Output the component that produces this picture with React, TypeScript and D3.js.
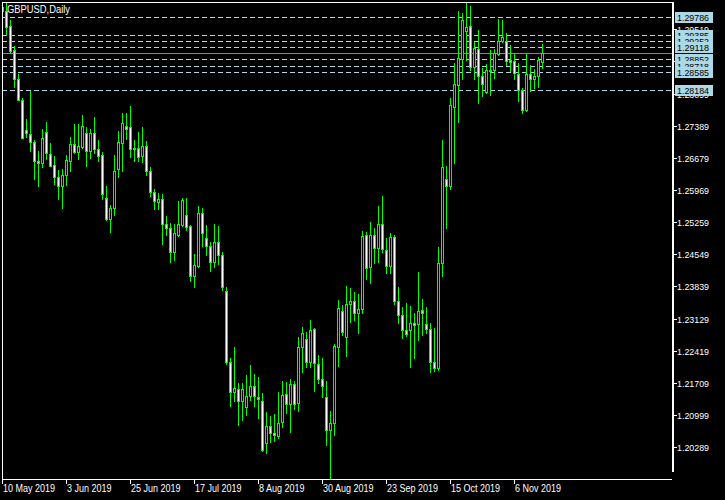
import React from 'react';
import * as d3 from 'd3';

// GBPUSD Daily candles, bar 0 = 10 May 2019
const OPEN = [1.3000,1.2992,1.2960,1.2905,1.2842,1.2796,1.2730,1.2720,1.2704,1.2660,1.2657,1.2726,1.2676,1.2653,1.2626,1.2606,1.2629,1.2662,1.2699,1.2680,1.2692,1.2723,1.2684,1.2723,1.2687,1.2675,1.2579,1.2533,1.2557,1.2643,1.2701,1.2739,1.2735,1.2687,1.2690,1.2671,1.2695,1.2639,1.2592,1.2571,1.2577,1.2522,1.2513,1.2461,1.2498,1.2520,1.2541,1.2518,1.2406,1.2430,1.2546,1.2491,1.2474,1.2437,1.2483,1.2453,1.2373,1.2217,1.2150,1.2157,1.2130,1.2117,1.2141,1.2165,1.2139,1.2130,1.2039,1.2076,1.2060,1.2054,1.2085,1.2146,1.2124,1.2168,1.2127,1.2250,1.2268,1.2216,1.2290,1.2212,1.2179,1.2139,1.2066,1.2082,1.2251,1.2329,1.2272,1.2345,1.2351,1.2326,1.2334,1.2497,1.2426,1.2497,1.2469,1.2522,1.2465,1.2428,1.2493,1.2351,1.2321,1.2288,1.2288,1.2304,1.2301,1.2332,1.2301,1.2290,1.2217,1.2203,1.2436,1.2621,1.2605,1.2780,1.2828,1.2887,1.2947,1.2960,1.2869,1.2908,1.2849,1.2813,1.2861,1.2861,1.2898,1.2925,1.2925,1.2883,1.2881,1.2854,1.2817,1.2773,1.2854,1.2843,1.2848,1.2880];
const HIGH = [1.3034,1.3011,1.2972,1.2914,1.2852,1.2800,1.2754,1.2815,1.2708,1.2684,1.2732,1.2747,1.2701,1.2673,1.2642,1.2644,1.2675,1.2715,1.2743,1.2743,1.2763,1.2737,1.2732,1.2758,1.2708,1.2681,1.2606,1.2564,1.2675,1.2728,1.2768,1.2767,1.2783,1.2708,1.2725,1.2735,1.2706,1.2648,1.2599,1.2590,1.2589,1.2540,1.2524,1.2522,1.2572,1.2580,1.2580,1.2520,1.2456,1.2561,1.2557,1.2520,1.2482,1.2522,1.2518,1.2460,1.2383,1.2226,1.2250,1.2170,1.2170,1.2189,1.2211,1.2191,1.2184,1.2148,1.2106,1.2098,1.2103,1.2150,1.2175,1.2173,1.2180,1.2175,1.2273,1.2294,1.2284,1.2310,1.2292,1.2233,1.2226,1.2176,1.2108,1.2257,1.2354,1.2343,1.2385,1.2380,1.2371,1.2368,1.2507,1.2504,1.2527,1.2513,1.2561,1.2583,1.2492,1.2503,1.2498,1.2383,1.2338,1.2348,1.2340,1.2326,1.2415,1.2357,1.2338,1.2304,1.2293,1.2470,1.2708,1.2651,1.2801,1.2878,1.2992,1.2988,1.3011,1.3003,1.2923,1.2951,1.2866,1.2876,1.2905,1.2908,1.2975,1.2973,1.2944,1.2918,1.2898,1.2878,1.2822,1.2898,1.2874,1.2864,1.2891,1.2920];
const LOW = [1.2985,1.2940,1.2900,1.2824,1.2795,1.2711,1.2715,1.2684,1.2622,1.2605,1.2647,1.2666,1.2649,1.2611,1.2578,1.2558,1.2609,1.2639,1.2679,1.2665,1.2690,1.2651,1.2668,1.2679,1.2660,1.2578,1.2531,1.2505,1.2542,1.2625,1.2639,1.2710,1.2670,1.2662,1.2660,1.2659,1.2631,1.2583,1.2555,1.2555,1.2478,1.2498,1.2439,1.2443,1.2496,1.2518,1.2509,1.2395,1.2382,1.2426,1.2474,1.2454,1.2417,1.2426,1.2434,1.2375,1.2212,1.2119,1.2132,1.2078,1.2089,1.2100,1.2133,1.2120,1.2094,1.2021,1.2016,1.2041,1.2043,1.2050,1.2074,1.2104,1.2063,1.2113,1.2108,1.2194,1.2207,1.2207,1.2154,1.2170,1.2139,1.2034,1.1959,1.2056,1.2209,1.2277,1.2231,1.2306,1.2310,1.2282,1.2326,1.2400,1.2391,1.2436,1.2437,1.2459,1.2413,1.2413,1.2346,1.2303,1.2270,1.2275,1.2205,1.2227,1.2266,1.2277,1.2281,1.2195,1.2198,1.2200,1.2408,1.2514,1.2599,1.2657,1.2748,1.2841,1.2885,1.2861,1.2842,1.2789,1.2804,1.2812,1.2806,1.2844,1.2896,1.2924,1.2874,1.2859,1.2843,1.2793,1.2767,1.2772,1.2815,1.2822,1.2824,1.2866];
const CLOSE = [1.2992,1.2957,1.2903,1.2842,1.2796,1.2712,1.2723,1.2704,1.2660,1.2657,1.2712,1.2679,1.2651,1.2626,1.2605,1.2630,1.2664,1.2699,1.2681,1.2695,1.2739,1.2682,1.2723,1.2687,1.2673,1.2589,1.2533,1.2557,1.2639,1.2703,1.2745,1.2732,1.2687,1.2689,1.2669,1.2695,1.2638,1.2592,1.2572,1.2577,1.2522,1.2513,1.2461,1.2502,1.2522,1.2575,1.2515,1.2406,1.2432,1.2546,1.2502,1.2474,1.2437,1.2483,1.2453,1.2383,1.2217,1.2150,1.2159,1.2130,1.2157,1.2142,1.2165,1.2143,1.2135,1.2023,1.2076,1.2060,1.2055,1.2082,1.2144,1.2124,1.2168,1.2124,1.2250,1.2281,1.2216,1.2288,1.2215,1.2179,1.2163,1.2066,1.2082,1.2253,1.2336,1.2284,1.2346,1.2351,1.2326,1.2334,1.2496,1.2424,1.2498,1.2469,1.2522,1.2466,1.2428,1.2493,1.2351,1.2321,1.2288,1.2279,1.2303,1.2299,1.2329,1.2326,1.2290,1.2217,1.2203,1.2436,1.2648,1.2606,1.2785,1.2830,1.2889,1.2972,1.2957,1.2869,1.2911,1.2849,1.2831,1.2861,1.2859,1.2900,1.2925,1.2935,1.2881,1.2879,1.2855,1.2817,1.2774,1.2854,1.2843,1.2849,1.2883,1.28985];

const DATE_TICK_BARS = [0, 16, 32, 48, 64, 80, 96, 112, 128];
const DATE_TICK_LABELS = ['10 May 2019', '3 Jun 2019', '25 Jun 2019', '17 Jul 2019', '8 Aug 2019', '30 Aug 2019', '23 Sep 2019', '15 Oct 2019', '6 Nov 2019'];
const PRICE_TICKS = [1.20289, 1.20999, 1.21709, 1.22419, 1.23129, 1.23839, 1.24549, 1.25259, 1.25969, 1.26679, 1.27389, 1.28099, 1.28809, 1.29519];
const LEVELS = [1.29786, 1.29385, 1.29252, 1.29118, 1.28852, 1.28718, 1.28585, 1.28184];
const BID = 1.28985;
const TITLE = 'GBPUSD,Daily';

const W = 725, H = 500;
const L = 2, R = 672, T = 2, B = 479;
const LIME = '#00ff00';
const LEVEL_COLOR = '#add8e6';

export default function App() {
  const x = d3.scaleLinear().domain([0, 167.5]).range([L, R]);
  const y = d3.scaleLinear().domain([1.19587, 1.30121]).range([B, T]);
  const fmt = d3.format('.5f');
  const py = (v: number) => Math.round(y(v));

  const candles = OPEN.map((o, i) => {
    const c = CLOSE[i];
    const cx = Math.round(x(i));
    const top = py(Math.max(o, c));
    const bot = py(Math.min(o, c));
    const hi = py(HIGH[i]);
    const lo = py(LOW[i]);
    const bull = c > o;
    return (
      <g key={i}>
        <rect x={cx} y={hi} width={1} height={lo - hi + 1} fill={LIME} />
        <rect x={cx - 1} y={top} width={3} height={bot - top + 1} fill={LIME} />
        {bot - top > 1 && (
          <rect x={cx} y={top + 1} width={1} height={bot - top - 1} fill={bull ? '#000000' : '#ffffff'} />
        )}
      </g>
    );
  });

  const font = '"Liberation Sans", Arial, sans-serif';

  return (
    <svg width={W} height={H} style={{ position: 'absolute', left: 0, top: 0, display: 'block' }} shapeRendering="crispEdges">
      <rect x={0} y={0} width={W} height={H} fill="#000000" />
      <defs>
        <clipPath id="plot">
          <rect x={L} y={T} width={R - L} height={B - T} />
        </clipPath>
      </defs>
      {/* level lines */}
      {LEVELS.map((v, i) => (
        <line key={i} x1={L} x2={R} y1={py(v) + 0.5} y2={py(v) + 0.5} stroke={LEVEL_COLOR} strokeWidth={1} strokeDasharray="5,3" />
      ))}
      <line x1={L} x2={R} y1={py(BID) + 0.5} y2={py(BID) + 0.5} stroke="#778899" strokeWidth={1} />
      <g clipPath="url(#plot)">{candles}</g>
      {/* frame */}
      <rect x={L} y={T} width={R - L} height={1} fill="#ffffff" />
      <rect x={L} y={T} width={1} height={B - T} fill="#ffffff" />
      <rect x={L} y={B} width={R - L} height={1} fill="#ffffff" />
      <rect x={R} y={T} width={2} height={B - T - 7} fill="#ffffff" />
      {/* title */}
      <text x={7} y={13} fill="#ffffff" fontFamily={font} fontSize={11} textLength={63} lengthAdjust="spacingAndGlyphs">{TITLE}</text>
      {/* price axis */}
      {PRICE_TICKS.map((v, i) => (
        <g key={i}>
          <rect x={R + 2} y={py(v)} width={3} height={1} fill="#ffffff" />
          <text x={677} y={py(v) + 4} fill="#ffffff" fontFamily={font} fontSize={9.5} textLength={32} lengthAdjust="spacingAndGlyphs">{fmt(v)}</text>
        </g>
      ))}
      {/* level labels */}
      {LEVELS.map((v, i) => (
        <g key={i}>
          <rect x={675} y={py(v) - 5} width={38} height={11} fill={LEVEL_COLOR} />
          <text x={677} y={py(v) + 4} fill="#000000" fontFamily={font} fontSize={9.5} textLength={32} lengthAdjust="spacingAndGlyphs">{fmt(v)}</text>
        </g>
      ))}
      {/* date axis */}
      {DATE_TICK_BARS.map((b, i) => {
        const tx = Math.round(x(b));
        return (
          <g key={i}>
            <rect x={tx} y={B} width={1} height={5} fill="#ffffff" />
            <text transform={`translate(${tx + 1},${492}) scale(0.9,1)`} fill="#ffffff" fontFamily={font} fontSize={10}>{DATE_TICK_LABELS[i]}</text>
          </g>
        );
      })}
    </svg>
  );
}
